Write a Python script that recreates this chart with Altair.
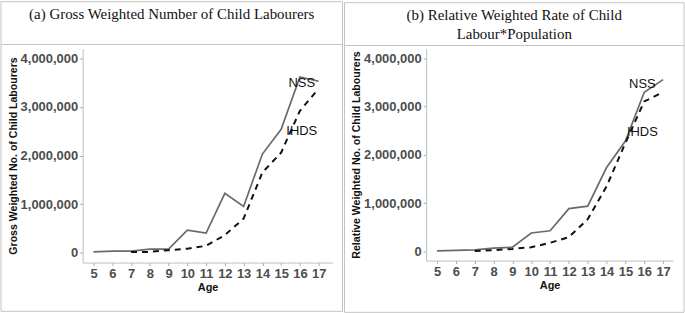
import altair as alt
import pandas as pd

ages = list(range(5, 18))
ihds_ages = list(range(7, 18))

nss_a = [15000, 30000, 30000, 70000, 70000, 460000, 400000, 1220000, 950000, 2030000, 2540000, 3620000, 3530000]
ihds_a = [10000, 15000, 50000, 80000, 140000, 360000, 700000, 1650000, 2060000, 2920000, 3380000]

nss_b = [15000, 25000, 35000, 70000, 90000, 385000, 430000, 890000, 940000, 1740000, 2290000, 3300000, 3560000]
ihds_b = [10000, 30000, 55000, 90000, 180000, 300000, 670000, 1350000, 2250000, 3110000, 3300000]

title_a = ["(a) Gross Weighted Number of Child Labourers"]
title_b = ["(b) Relative Weighted Rate of Child", "Labour*Population"]
ytitle_a = "Gross Weighted No. of Child Labourers"
ytitle_b = "Relative Weighted No. of Child Labourers"
series_labels = ["NSS", "IHDS"]
label_x_a = [16.1, 16.1]
label_y_a = [3500000, 2500000]
label_x_b = [15.9, 15.9]
label_y_b = [3460000, 2470000]
y_ticks = [0, 1000000, 2000000, 3000000, 4000000]

SANS = "Liberation Sans"
SERIF = "Liberation Serif"
FRAME = "#c4c4c4"
LEFT_OFFSET = 82


def panel(nss, ihds, titles, ytitle, lx, ly, w, h, xdom, ydom, right_edge, bottom, top, divider):
    df_n = pd.DataFrame({"age": ages, "value": nss})
    df_i = pd.DataFrame({"age": ihds_ages, "value": ihds})
    df_l = pd.DataFrame({"age": lx, "value": ly, "label": series_labels})

    xs = alt.Scale(domain=xdom, nice=False, zero=False)
    ys = alt.Scale(domain=ydom, nice=False, zero=False)
    xax = alt.Axis(values=ages, labelAngle=0, title="Age", grid=False, labelOverlap=False,
                   labelSeparation=0, labelBound=False, labelFlush=False,
                   labelFont=SANS, labelFontSize=13, labelFontWeight="bold", labelColor="#4d4d4d",
                   titleFont=SANS, titleFontSize=11, titleFontWeight="bold", titleColor="#111",
                   tickSize=3, tickColor="#aaaaaa", domainColor="#bdbdbd", labelPadding=2, titlePadding=1)
    yax = alt.Axis(values=y_ticks, format=",d", title=ytitle, grid=False, labelOverlap=False,
                   labelFont=SANS, labelFontSize=13, labelFontWeight="bold", labelColor="#4d4d4d",
                   titleFont=SANS, titleFontSize=10.6, titleFontWeight="bold", titleColor="#111",
                   tickSize=3, tickColor="#aaaaaa", domainColor="#bdbdbd", labelPadding=2, titlePadding=2)

    enc = dict(x=alt.X("age:Q", scale=xs, axis=xax), y=alt.Y("value:Q", scale=ys, axis=yax))

    solid = alt.Chart(df_n).mark_line(color="#6a6a6a", strokeWidth=1.7).encode(**enc)
    dashed = alt.Chart(df_i).mark_line(color="#111111", strokeWidth=2, strokeDash=[6, 5]).encode(**enc)
    labels = alt.Chart(df_l).mark_text(font=SANS, fontSize=13, color="#111111").encode(
        text="label:N", **enc)

    layers = [solid, dashed, labels]

    # table frame
    base = alt.Chart(pd.DataFrame({"k": [0]}))
    left = -LEFT_OFFSET
    for yy in (top, divider, bottom):
        layers.append(base.mark_rule(color=FRAME, strokeWidth=1).encode(
            x=alt.value(left), x2=alt.value(right_edge), y=alt.value(yy)))
    for xx in (left, right_edge):
        layers.append(base.mark_rule(color=FRAME, strokeWidth=1).encode(
            x=alt.value(xx), y=alt.value(top), y2=alt.value(bottom)))

    # cell titles
    cx = (left + right_edge) / 2
    for i, t in enumerate(titles):
        layers.append(base.mark_text(text=t, font=SERIF, fontSize=15, color="#111111",
                                     baseline="middle", align="center").encode(
            x=alt.value(cx), y=alt.value(top + 12 + 19.5 * i)))

    return alt.layer(*layers).properties(width=w, height=h)


pa = panel(nss_a, ihds_a, title_a, ytitle_a, label_x_a, label_y_a,
           251, 215, [4.42, 17.74], [-205000, 4205000], 261, 264, -47, -4)
pb = panel(nss_b, ihds_b, title_b, ytitle_b, label_x_b, label_y_b,
           248, 213, [4.42, 17.53], [-186000, 4206000], 259, 265, -46, -3)

chart = (alt.hconcat(pa, pb, spacing=0).properties(padding=0)
         .configure_view(stroke=None)
         .configure_axis(labelOverlap=False))

chart.save("out.html", embed_options={"renderer": "svg", "actions": False})
